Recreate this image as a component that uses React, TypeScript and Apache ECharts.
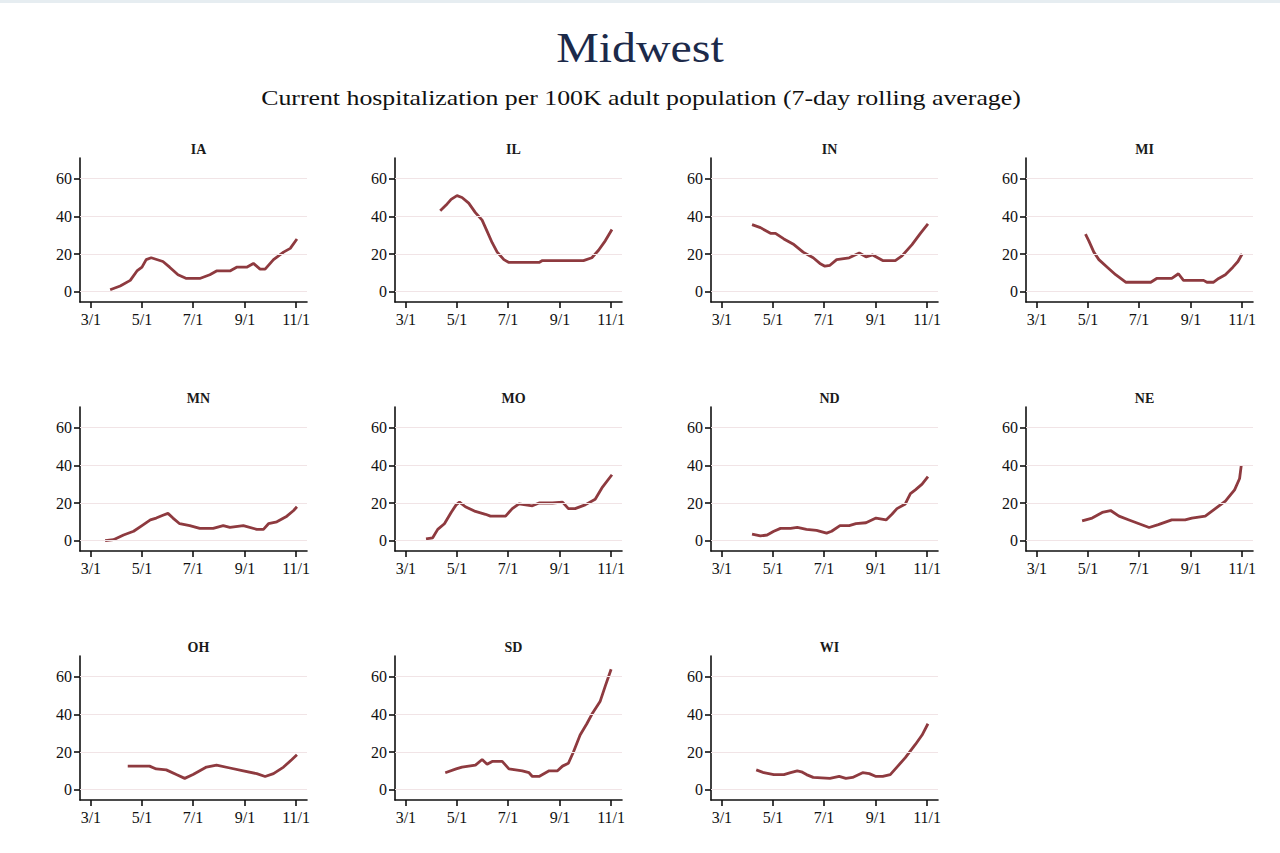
import React, { useEffect, useRef } from "react";
import * as echarts from "echarts";

// x = days since March 1 (3/1=0, 5/1=61, 7/1=122, 9/1=184, 11/1=245)
const X_TICK_DAYS = [0, 61, 122, 184, 245];
const X_TICK_LABELS = ["3/1", "5/1", "7/1", "9/1", "11/1"];
const Y_TICKS = [0, 20, 40, 60];

const STATES = ["IA", "IL", "IN", "MI", "MN", "MO", "ND", "NE", "OH", "SD", "WI"];

const IA: number[][] = [[23,1],[35,3],[47,6],[55,11],[61,13],[66,17],[72,18],[86,16],[94,13],[104,9],[114,7],[130,7],[142,9],[150,11],[166,11],[174,13],[186,13],[194,15],[202,12],[208,12],[218,17],[230,21],[238,23],[246,28]];
const IL: number[][] = [[41,43],[48,46],[54,49],[61,51],[67,50],[75,47],[83,42],[91,38],[97,32],[103,26],[109,21],[117,17],[123,15.5],[159,15.5],[163,16.5],[198,16.5],[212,16.5],[222,18],[230,22],[238,27],[246,33]];
const IN: number[][] = [[36,35.6],[46,34],[58,31],[64,31],[74,28],[86,25],[97,21],[109,18],[117,15],[123,13.5],[129,14],[137,17],[152,18],[164,20.5],[172,18.5],[180,19.5],[192,16.5],[207,16.5],[215,19],[227,25],[237,31],[246,36]];
const MI: number[][] = [[58,30.6],[62,27],[68,21],[74,17],[84,13],[94,9],[106,5],[118,5],[136,5],[143,7],[161,7],[169,9.5],[175,6],[199,6],[203,5],[211,5],[217,7],[225,9],[234,13],[240,16],[245,20]];
const MN: number[][] = [[17,0],[27,0.5],[39,3],[51,5],[61,8],[71,11],[78,12],[86,13.5],[92,14.5],[98,12],[106,9],[118,8],[130,6.5],[146,6.5],[158,8],[166,7],[182,8],[198,6],[206,6],[212,9],[222,10],[234,13],[242,16],[246,18]];
const MO: number[][] = [[24,1],[32,1.5],[38,6],[46,9],[54,15],[60,19],[64,20.5],[71,18],[83,15.5],[95,14],[101,13],[119,13],[127,17],[135,19.5],[143,19],[151,18.5],[159,20],[175,20],[187,20.5],[194,17],[202,17],[214,19],[226,22],[234,28],[246,35]];
const ND: number[][] = [[36,3.5],[46,2.5],[54,3],[62,5],[70,6.5],[82,6.5],[90,7],[101,6],[113,5.5],[125,4],[131,5],[141,8],[152,8],[160,9],[172,9.5],[184,12],[196,11],[203,14],[209,17],[219,19.5],[225,25],[231,27],[239,30],[246,34]];
const NE: number[][] = [[54,10.5],[66,12],[78,15],[88,16],[98,13],[110,11],[122,9],[134,7],[145,8.5],[161,11],[177,11],[185,12],[201,13],[213,17],[225,21],[236,27],[242,33],[244,40]];
const OH: number[][] = [[44,12.5],[70,12.5],[78,11],[90,10.5],[102,8],[112,6],[122,8],[130,10],[138,12],[150,13],[166,11.5],[182,10],[198,8.5],[208,7],[218,8.5],[230,12],[240,16],[246,18.5]];
const SD: number[][] = [[47,9],[60,11],[67,12],[83,13],[91,16],[97,13.5],[103,15],[115,15],[123,11],[139,10],[147,9],[151,7],[159,7],[171,10],[181,10],[187,12.5],[194,14],[200,20],[208,29],[216,35],[222,40],[232,47],[238,55],[245,64]];
const WI: number[][] = [[41,10.5],[50,9],[62,8],[74,8],[82,9],[90,10],[95,9.5],[101,8],[109,6.5],[129,6],[140,7],[148,6],[156,6.5],[168,9],[176,8.5],[184,7],[192,7],[201,8],[209,12],[219,17],[231,24],[239,29],[246,35]];

const SERIES_DATA = [IA, IL, IN, MI, MN, MO, ND, NE, OH, SD, WI];

const COL_LEFTS = [80, 395, 711, 1026];
const ROW_TOPS = [158, 407, 656];
const PLOT_W = 227;
const PLOT_H = 144;
const LINE_COLOR = "#8e3a3f";
const GRID_COLOR = "#f1e4e6";
const FONT = "'Liberation Serif', 'Times New Roman', serif";

export default function App() {
  const ref = useRef<HTMLDivElement>(null);
  useEffect(() => {
    if (!ref.current) return;
    const chart = echarts.init(ref.current, null, { renderer: "svg" });
    const grids: any[] = [];
    const xAxes: any[] = [];
    const yAxes: any[] = [];
    const series: any[] = [];
    const titles: any[] = [];
    STATES.forEach((st, i) => {
      const col = i % 4;
      const row = Math.floor(i / 4);
      const left = COL_LEFTS[col];
      const top = ROW_TOPS[row];
      grids.push({ left, top, width: PLOT_W, height: PLOT_H });
      titles.push({
        text: st,
        left: left + PLOT_W / 2,
        top: top - 21,
        textAlign: "center",
        textStyle: { fontFamily: FONT, fontSize: 14, fontWeight: "bold", color: "#1a1a1a" },
      });
      xAxes.push({
        type: "value",
        gridIndex: i,
        min: -13,
        max: 258,
        axisLine: { onZero: false, lineStyle: { color: "#111", width: 1.6 } },
        axisTick: { customValues: X_TICK_DAYS, length: 6, lineStyle: { color: "#111", width: 1.6 } },
        axisLabel: {
          customValues: X_TICK_DAYS,
          formatter: (v: number) => X_TICK_LABELS[X_TICK_DAYS.indexOf(v)] ?? "",
          fontFamily: FONT,
          fontSize: 16,
          color: "#111",
          margin: 9,
        },
        splitLine: { show: false },
      });
      yAxes.push({
        type: "value",
        gridIndex: i,
        min: -5.5,
        max: 71,
        axisLine: { show: true, onZero: false, lineStyle: { color: "#111", width: 1.6 } },
        axisTick: { show: true, customValues: Y_TICKS, length: 6, lineStyle: { color: "#111", width: 1.6 } },
        axisLabel: {
          customValues: Y_TICKS,
          fontFamily: FONT,
          fontSize: 16,
          color: "#111",
          margin: 8,
        },
        splitLine: { show: false },
      });
      series.push({
        type: "line",
        xAxisIndex: i,
        yAxisIndex: i,
        data: [],
        z: 1,
        silent: true,
        markLine: {
          silent: true,
          symbol: "none",
          label: { show: false },
          lineStyle: { color: GRID_COLOR, type: "solid", width: 1.2 },
          data: Y_TICKS.map((v) => ({ yAxis: v })),
        },
      });
      series.push({
        type: "line",
        name: st,
        xAxisIndex: i,
        yAxisIndex: i,
        data: SERIES_DATA[i],
        showSymbol: false,
        z: 3,
        lineStyle: { color: LINE_COLOR, width: 2.8 },
        itemStyle: { color: LINE_COLOR },
      });
    });
    chart.setOption({
      animation: false,
      backgroundColor: "#ffffff",
      title: titles,
      grid: grids,
      xAxis: xAxes,
      yAxis: yAxes,
      series,
      graphic: [
        { type: "rect", left: 0, top: 0, shape: { width: 1280, height: 3 }, style: { fill: "#e6edf1" } },
        {
          type: "text",
          x: 640,
          y: 48,
          scaleX: 1.14,
          style: { text: "Midwest", fontFamily: FONT, fontSize: 42, fill: "#1c2a4a", align: "center", verticalAlign: "middle" },
        },
        {
          type: "text",
          x: 641,
          y: 98,
          scaleX: 1.23,
          style: {
            text: "Current hospitalization per 100K adult population (7-day rolling average)",
            fontFamily: FONT,
            fontSize: 21,
            fill: "#111",
            align: "center",
            verticalAlign: "middle",
          },
        },
      ],
    });
    return () => chart.dispose();
  }, []);
  return (
    <div
      ref={ref}
      style={{ position: "fixed", left: 0, top: 0, width: 1280, height: 853, background: "#fff" }}
    />
  );
}
